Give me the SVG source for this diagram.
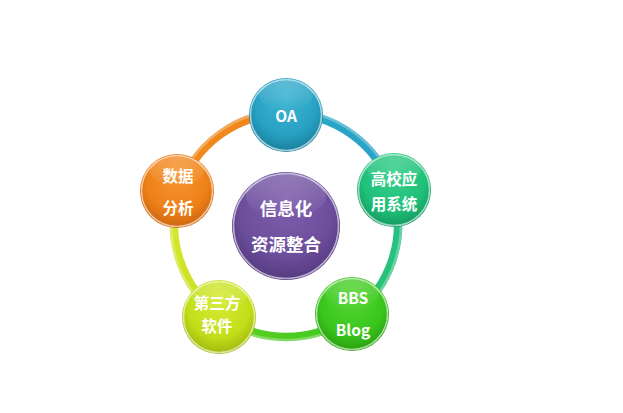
<svg xmlns="http://www.w3.org/2000/svg" width="623" height="413" viewBox="0 0 623 413">
<defs>
<style>
.ring{fill:none;stroke-width:8.5;stroke-linecap:round}
.hl{fill:none;stroke-width:2.5;stroke:#ffffff;stroke-opacity:0.3}
.rim{fill:none;stroke:#ffffff;stroke-width:1.5;stroke-opacity:0.6}
.shine{fill:url(#shine)}
.t{font-family:"Noto Sans CJK SC","Liberation Sans",sans-serif;font-weight:bold;fill:#ffffff;text-anchor:middle;dominant-baseline:central}
.s{font-size:15.5px}
.c{font-size:17.5px}
</style>
<radialGradient id="gBlue" cx="50%" cy="40%" r="60%" fx="50%" fy="25%"><stop offset="0" stop-color="#3fb6d4"/><stop offset="0.7" stop-color="#27a0c2"/><stop offset="1" stop-color="#1a7f9c"/></radialGradient>
<radialGradient id="gTeal" cx="50%" cy="40%" r="60%" fx="50%" fy="25%"><stop offset="0" stop-color="#38d08e"/><stop offset="0.7" stop-color="#1fc079"/><stop offset="1" stop-color="#15985e"/></radialGradient>
<radialGradient id="gGreen" cx="50%" cy="40%" r="60%" fx="50%" fy="25%"><stop offset="0" stop-color="#55d834"/><stop offset="0.7" stop-color="#3ac61c"/><stop offset="1" stop-color="#2a9e12"/></radialGradient>
<radialGradient id="gYellow" cx="50%" cy="40%" r="60%" fx="50%" fy="25%"><stop offset="0" stop-color="#d6ec38"/><stop offset="0.7" stop-color="#c2de18"/><stop offset="1" stop-color="#9fb810"/></radialGradient>
<radialGradient id="gOrange" cx="50%" cy="40%" r="60%" fx="50%" fy="25%"><stop offset="0" stop-color="#f69634"/><stop offset="0.7" stop-color="#ee8018"/><stop offset="1" stop-color="#cc6610"/></radialGradient>
<radialGradient id="gPurple" cx="50%" cy="40%" r="60%" fx="50%" fy="25%"><stop offset="0" stop-color="#8060ae"/><stop offset="0.7" stop-color="#6c4e9c"/><stop offset="1" stop-color="#553a80"/></radialGradient>
<linearGradient id="shine" x1="0" y1="0" x2="0" y2="1"><stop offset="0" stop-color="#ffffff" stop-opacity="0.22"/><stop offset="1" stop-color="#ffffff" stop-opacity="0"/></linearGradient>
<linearGradient id="a1" gradientUnits="userSpaceOnUse" x1="286" y1="113" x2="392" y2="190"><stop offset="0" stop-color="#2aa8c8"/><stop offset="1" stop-color="#2aa0c4"/></linearGradient>
<linearGradient id="a2" gradientUnits="userSpaceOnUse" x1="392" y1="190" x2="352" y2="316"><stop offset="0" stop-color="#24c28a"/><stop offset="1" stop-color="#2cc070"/></linearGradient>
<linearGradient id="a3" gradientUnits="userSpaceOnUse" x1="352" y1="316" x2="220" y2="316"><stop offset="0" stop-color="#3cc820"/><stop offset="1" stop-color="#5fd020"/></linearGradient>
<linearGradient id="a4" gradientUnits="userSpaceOnUse" x1="220" y1="316" x2="180" y2="190"><stop offset="0" stop-color="#c8e020"/><stop offset="1" stop-color="#d8e830"/></linearGradient>
<linearGradient id="a5" gradientUnits="userSpaceOnUse" x1="180" y1="190" x2="286" y2="113"><stop offset="0" stop-color="#f08a1c"/><stop offset="1" stop-color="#f0861a"/></linearGradient>
</defs>
<rect width="623" height="413" fill="#ffffff"/>
<g id="connectors">
<path class="ring" stroke="url(#a1)" d="M286,113 A112,112 0 0 1 392.5,190.4"/>
<path class="ring" stroke="url(#a2)" d="M392.5,190.4 A112,112 0 0 1 351.8,315.6"/>
<path class="ring" stroke="url(#a3)" d="M351.8,315.6 A112,112 0 0 1 220.2,315.6"/>
<path class="ring" stroke="url(#a4)" d="M220.2,315.6 A112,112 0 0 1 179.5,190.4"/>
<path class="ring" stroke="url(#a5)" d="M179.5,190.4 A112,112 0 0 1 286,113"/>
<path class="hl" d="M286,110 A115,115 0 0 1 395,189.5"/>
<path class="hl" d="M395,189.5 A115,115 0 0 1 353.6,318"/>
<path class="hl" d="M353.6,318 A115,115 0 0 1 218.4,318"/>
<path class="hl" d="M218.4,318 A115,115 0 0 1 177,189.5"/>
<path class="hl" d="M177,189.5 A115,115 0 0 1 286,110"/>
</g>
<g id="center">
<circle cx="286" cy="226" r="54" fill="url(#gPurple)"/>
<circle cx="286" cy="226" r="52.5" class="rim"/>
<ellipse cx="286" cy="196" rx="40" ry="22" class="shine"/>
<text class="t c" x="286" y="207">信息化</text>
<text class="t c" x="286" y="243">资源整合</text>
</g>
<g id="oa">
<circle cx="286" cy="115" r="37" fill="url(#gBlue)"/>
<circle cx="286" cy="115" r="35.5" class="rim"/>
<ellipse cx="286" cy="95" rx="27" ry="15" class="shine"/>
<text class="t s" x="286" y="115">OA</text>
</g>
<g id="gaoxiao">
<circle cx="394" cy="190" r="37" fill="url(#gTeal)"/>
<circle cx="394" cy="190" r="35.5" class="rim"/>
<ellipse cx="394" cy="170" rx="27" ry="15" class="shine"/>
<text class="t s" x="394" y="178">高校应</text>
<text class="t s" x="394" y="203">用系统</text>
</g>
<g id="bbs">
<circle cx="352" cy="314" r="37" fill="url(#gGreen)"/>
<circle cx="352" cy="314" r="35.5" class="rim"/>
<ellipse cx="352" cy="294" rx="27" ry="15" class="shine"/>
<text class="t s" x="353" y="297">BBS</text>
<text class="t s" x="353" y="329">Blog</text>
</g>
<g id="disanfang">
<circle cx="219" cy="317" r="37" fill="url(#gYellow)"/>
<circle cx="219" cy="317" r="35.5" class="rim"/>
<ellipse cx="219" cy="297" rx="27" ry="15" class="shine"/>
<text class="t s" x="217" y="302">第三方</text>
<text class="t s" x="217" y="325">软件</text>
</g>
<g id="shuju">
<circle cx="177" cy="191" r="37" fill="url(#gOrange)"/>
<circle cx="177" cy="191" r="35.5" class="rim"/>
<ellipse cx="177" cy="171" rx="27" ry="15" class="shine"/>
<text class="t s" x="178" y="175">数据</text>
<text class="t s" x="178" y="207">分析</text>
</g>
</svg>
